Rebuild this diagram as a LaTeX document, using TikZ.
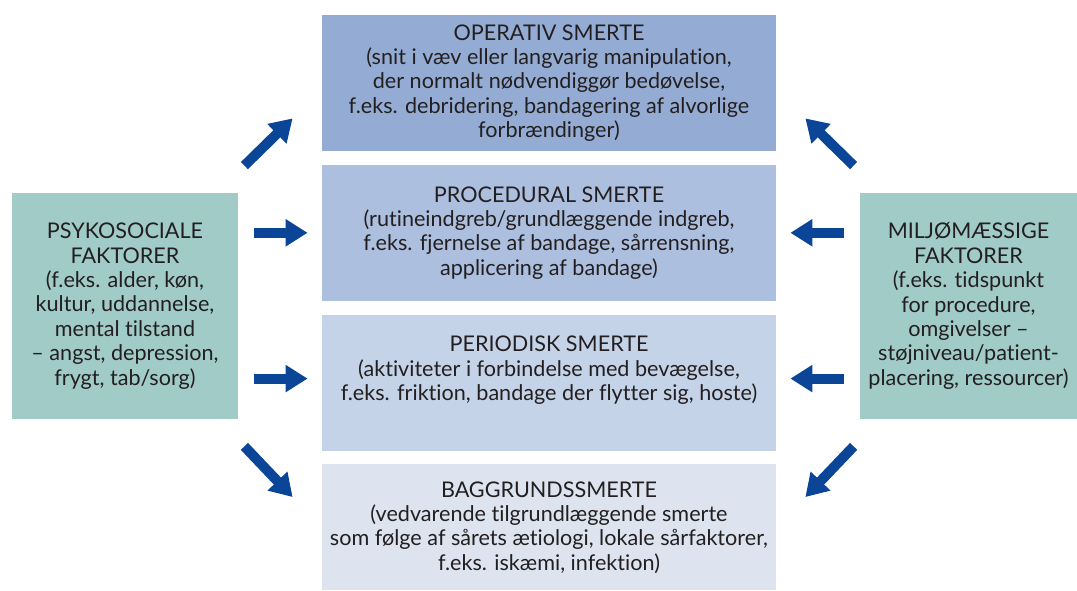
\documentclass[tikz,border=0pt]{standalone}
\usepackage{fontspec}
\setmainfont{Lato}[Ligatures=NoCommon]
\usetikzlibrary{positioning}
\usetikzlibrary{arrows.meta}

\definecolor{txtgray}{HTML}{231F20}
\definecolor{operblue}{HTML}{94ACD3}
\definecolor{procblue}{HTML}{ADBFDF}
\definecolor{perblue}{HTML}{C5D3E8}
\definecolor{baggblue}{HTML}{DDE4F0}
\definecolor{faktgreen}{HTML}{A0CBC7}
\definecolor{arrowblue}{HTML}{0A4597}

\begin{document}
\begin{tikzpicture}[
	painbox/.style={minimum width=227pt, minimum height=68pt, inner sep=0pt, align=center, text=txtgray, font=\fontsize{10.8}{12.2}\selectfont},
	faktbox/.style={fill=faktgreen, minimum height=113pt, inner sep=0pt, align=center, text=txtgray, font=\fontsize{10.8}{12.2}\selectfont},
	bigarrow/.style={draw=arrowblue, line width=5pt, -{Triangle[width=13pt,length=11pt]}},
	node distance=6.5pt
]
	\useasboundingbox (0,0) rectangle (538.5pt,-295pt);

	\node[painbox, fill=operblue] (oper) at (274.5pt,-41.5pt) {OPERATIV SMERTE\\(snit i væv eller langvarig manipulation,\\der normalt nødvendiggør bedøvelse,\\f.eks. debridering, bandagering af alvorlige\\forbrændinger)};
	\node[painbox, fill=procblue] (proc) [below=of oper] {PROCEDURAL SMERTE\\(rutineindgreb/grundlæggende indgreb,\\f.eks. fjernelse af bandage, sårrensning,\\applicering af bandage)};
	\node[painbox, fill=perblue] (period) [below=of proc] {PERIODISK SMERTE\\(aktiviteter i forbindelse med bevægelse,\\f.eks. friktion, bandage der flytter sig, hoste)\\[2pt]};
	\node[painbox, fill=baggblue, minimum height=63pt] (bagg) [below=of period] {BAGGRUNDSSMERTE\\(vedvarende tilgrundlæggende smerte\\som følge af sårets ætiologi, lokale sårfaktorer,\\f.eks. iskæmi, infektion)};

	\node[faktbox, minimum width=113pt] (psyk) at (62.5pt,-153pt) {PSYKOSOCIALE\\FAKTORER\\(f.eks. alder, køn,\\kultur, uddannelse,\\mental tilstand\\-- angst, depression,\\frygt, tab/sorg)};
	\node[faktbox, minimum width=108.5pt] (milj) at (484.25pt,-153pt) {MILJØMÆSSIGE\\FAKTORER\\(f.eks. tidspunkt\\for procedure,\\omgivelser --\\støjniveau/patient-\\placering, ressourcer)};

	% venstre side
	\path[bigarrow] ([shift={(3pt,13.5pt)}]psyk.north east) -- ([shift={(-14.5pt,16.5pt)}]oper.south west);
	\path[bigarrow] ([xshift=8pt]psyk.east |- proc.west) -- ([xshift=-7pt]proc.west);
	\path[bigarrow] ([xshift=8pt,yshift=2pt]psyk.east |- period.west) -- ([xshift=-7pt,yshift=2pt]period.west);
	\path[bigarrow] ([shift={(3pt,-13.5pt)}]psyk.south east) -- ([shift={(-14.5pt,-16.5pt)}]bagg.north west);

	% højre side
	\path[bigarrow] ([shift={(-3pt,13.5pt)}]milj.north west) -- ([shift={(14.5pt,16.5pt)}]oper.south east);
	\path[bigarrow] ([xshift=-8pt]milj.west |- proc.east) -- ([xshift=7pt]proc.east);
	\path[bigarrow] ([xshift=-8pt,yshift=2pt]milj.west |- period.east) -- ([xshift=7pt,yshift=2pt]period.east);
	\path[bigarrow] ([shift={(-3pt,-13.5pt)}]milj.south west) -- ([shift={(14.5pt,-16.5pt)}]bagg.north east);

\end{tikzpicture}
\end{document}
